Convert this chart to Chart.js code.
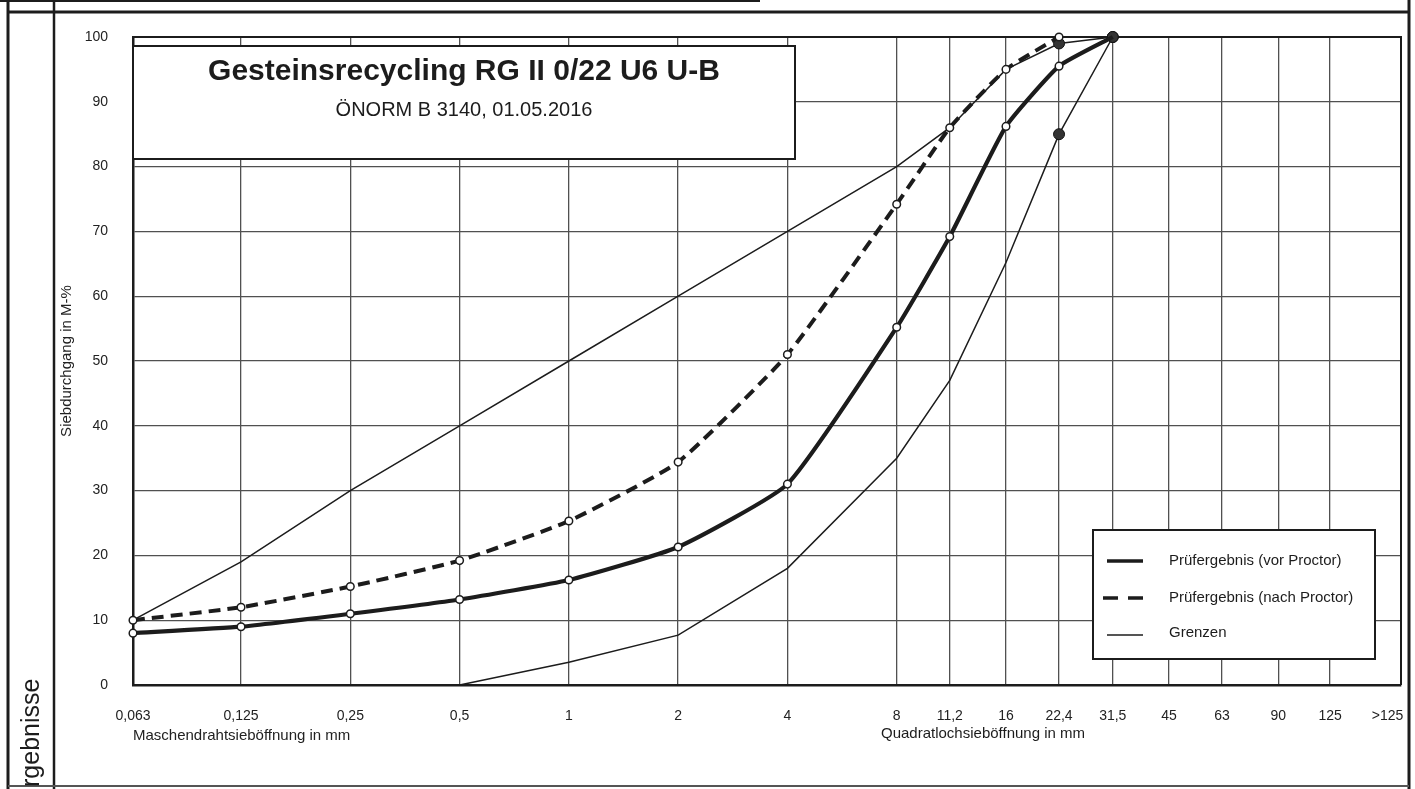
<!DOCTYPE html>
<html lang="de">
<head>
<meta charset="utf-8">
<title>Sieblinie RG II 0/22 U6 U-B</title>
<script src="https://cdn.jsdelivr.net/npm/chart.js@4.4.1/dist/chart.umd.min.js"></script>
<style>
  html, body { margin: 0; padding: 0; background: #fff; }
  #wrap { position: relative; width: 1415px; height: 789px; overflow: hidden; }
  canvas { display: block; }
</style>
</head>
<body>
<div id="wrap"><canvas id="siebChart" width="1415" height="789"></canvas></div>
<script>
// Sieböffnungen (mm) und Achsbeschriftung, ">125" sitzt im letzten Feld
const sieveSizes  = [0.063, 0.125, 0.25, 0.5, 1, 2, 4, 8, 11.2, 16, 22.4, 31.5, 45, 63, 90, 125, 180];
const sieveLabels = ["0,063", "0,125", "0,25", "0,5", "1", "2", "4", "8", "11,2", "16", "22,4", "31,5", "45", "63", "90", "125", ">125"];
const yTicks = [0, 10, 20, 30, 40, 50, 60, 70, 80, 90, 100];

// Siebdurchgang in M-%
const vorSieves  = [0.063, 0.125, 0.25, 0.5, 1, 2, 4, 8, 11.2, 16, 22.4, 31.5];
const vorProctor = [8, 9, 11, 13.2, 16.2, 21.3, 31, 55.2, 69.2, 86.2, 95.5, 100];

const nachSieves  = [0.063, 0.125, 0.25, 0.5, 1, 2, 4, 8, 11.2, 16, 22.4];
const nachProctor = [10, 12, 15.2, 19.2, 25.3, 34.4, 51, 74.2, 86, 95, 100];

const obenSieves = [0.063, 0.125, 0.25, 0.5, 1, 2, 4, 8, 11.2, 16, 22.4, 31.5];
const grenzeOben = [10, 19, 30, 40, 50, 60, 70, 80, 86, 95, 99, 100];

const untenSieves = [0.5, 1, 2, 4, 8, 11.2, 16, 22.4, 31.5];
const grenzeUnten = [0, 3.5, 7.7, 18, 35, 47, 65.2, 85, 100];

const chartTitle = "Gesteinsrecycling RG II 0/22 U6 U-B";
const chartSubtitle = "ÖNORM B 3140, 01.05.2016";
const legendLabels = ["Prüfergebnis (vor Proctor)", "Prüfergebnis (nach Proctor)", "Grenzen"];

const INK = "#1c1c1c";
const GRID = "#505050";
const FONT = '"Liberation Sans", Arial, sans-serif';

function toPoints(xs, ys) {
    return xs.map((x, i) => ({ x: x, y: ys[i] }));
}

function line(ctx, x1, y1, x2, y2, w) {
    ctx.lineWidth = w;
    ctx.beginPath();
    ctx.moveTo(x1, y1);
    ctx.lineTo(x2, y2);
    ctx.stroke();
}

/* Formularrahmen, Titelkasten, Legende */
const paperPlugin = {
    id: "paper",
    beforeDatasetsDraw(chart) {
        const ctx = chart.ctx;
        const a = chart.chartArea;
        ctx.save();
        ctx.strokeStyle = INK;
        ctx.fillStyle = INK;

        // Rahmen der Seite
        line(ctx, 0, 1, 760, 1, 2);
        line(ctx, 8, 0, 8, 789, 3);
        line(ctx, 54, 0, 54, 789, 2.5);
        line(ctx, 1409, 0, 1409, 789, 3);
        line(ctx, 7, 12, 1410, 12, 3);
        ctx.strokeStyle = "#555";
        line(ctx, 8, 786, 1409, 786, 2);

        // Diagrammrahmen oben und rechts
        ctx.strokeStyle = INK;
        ctx.lineWidth = 2;
        ctx.beginPath();
        ctx.moveTo(a.left, a.top);
        ctx.lineTo(a.right, a.top);
        ctx.lineTo(a.right, a.bottom);
        ctx.stroke();

        // Spaltentext links
        ctx.save();
        ctx.translate(32, 787);
        ctx.rotate(-Math.PI / 2);
        ctx.font = "25px " + FONT;
        ctx.textAlign = "left";
        ctx.textBaseline = "middle";
        ctx.fillText("rgebnisse", 0, 0);
        ctx.restore();

        // Titelkasten
        ctx.fillStyle = "#fff";
        ctx.fillRect(a.left, 46, 662, 113);
        ctx.lineWidth = 2;
        ctx.strokeRect(a.left, 46, 662, 113);
        ctx.fillStyle = INK;
        ctx.textAlign = "center";
        ctx.textBaseline = "alphabetic";
        ctx.font = "bold 30px " + FONT;
        ctx.fillText(chartTitle, a.left + 331, 80);
        ctx.font = "20px " + FONT;
        ctx.fillText(chartSubtitle, a.left + 331, 116);

        // zweite Achsbeschriftung
        ctx.textAlign = "left";
        ctx.textBaseline = "middle";
        ctx.font = "15px " + FONT;
        ctx.fillText("Quadratlochsieböffnung in mm", 881, 734);

        // Legende
        ctx.fillStyle = "#fff";
        ctx.fillRect(1093, 530, 282, 129);
        ctx.lineWidth = 2;
        ctx.strokeRect(1093, 530, 282, 129);
        ctx.strokeStyle = INK;
        line(ctx, 1107, 561, 1143, 561, 3.5);
        ctx.setLineDash([15, 10]);
        line(ctx, 1103, 598, 1143, 598, 3.5);
        ctx.setLineDash([]);
        line(ctx, 1107, 635, 1143, 635, 1.5);
        ctx.fillStyle = INK;
        ctx.font = "15px " + FONT;
        ctx.fillText(legendLabels[0], 1169, 561);
        ctx.fillText(legendLabels[1], 1169, 598);
        ctx.fillText(legendLabels[2], 1169, 633);

        ctx.restore();
    }
};

Chart.defaults.font.family = FONT;
Chart.defaults.color = "#222";

const openDot = {
    pointStyle: "circle",
    pointBackgroundColor: "#fff",
    pointBorderColor: INK,
    pointBorderWidth: 1.5,
    pointHoverRadius: 4
};

new Chart(document.getElementById("siebChart"), {
    type: "line",
    data: {
        datasets: [
            Object.assign({
                label: legendLabels[0],
                data: toPoints(vorSieves, vorProctor),
                borderColor: INK,
                borderWidth: 4.2,
                tension: 0.15,
                clip: false,
                pointRadius: ctx => ctx.dataIndex === vorProctor.length - 1 ? 0 : 3.8
            }, openDot),
            Object.assign({
                label: legendLabels[1],
                data: toPoints(nachSieves, nachProctor),
                borderColor: INK,
                borderWidth: 4,
                borderDash: [12, 7],
                tension: 0.15,
                clip: false,
                pointRadius: 3.8
            }, openDot),
            {
                label: "Grenze oben",
                data: toPoints(obenSieves, grenzeOben),
                borderColor: INK,
                borderWidth: 1.5,
                tension: 0,
                clip: false,
                pointRadius: ctx => ctx.raw && ctx.raw.x >= 22.4 ? 5.5 : 0,
                pointBackgroundColor: "#333",
                pointBorderColor: "#111",
                pointBorderWidth: 1
            },
            {
                label: "Grenze unten",
                data: toPoints(untenSieves, grenzeUnten),
                borderColor: INK,
                borderWidth: 1.5,
                tension: 0,
                clip: false,
                pointRadius: ctx => ctx.raw && ctx.raw.x >= 22.4 ? 5.5 : 0,
                pointBackgroundColor: "#333",
                pointBorderColor: "#111",
                pointBorderWidth: 1
            }
        ]
    },
    options: {
        responsive: false,
        animation: false,
        layout: { padding: { left: 55, top: 37, right: 14, bottom: 44 } },
        plugins: {
            legend: { display: false },
            tooltip: { enabled: false },
            title: { display: false }
        },
        scales: {
            x: {
                type: "logarithmic",
                min: 0.063,
                max: 196,
                afterBuildTicks: scale => { scale.ticks = sieveSizes.map(v => ({ value: v })); },
                afterFit: scale => {
                    scale.height = 60;
                    scale.paddingLeft = 0;
                    scale.paddingRight = 0;
                },
                ticks: {
                    autoSkip: false,
                    maxRotation: 0,
                    minRotation: 0,
                    padding: 23,
                    font: { size: 14 },
                    callback: (value, index) => sieveLabels[index]
                },
                grid: {
                    drawTicks: false,
                    color: ctx => ctx.tick && ctx.tick.value === 180 ? "rgba(0,0,0,0)" : GRID,
                    lineWidth: 1.3
                },
                border: { color: INK, width: 2.5 },
                title: {
                    display: true,
                    text: "Maschendrahtsieböffnung in mm",
                    align: "start",
                    font: { size: 15 },
                    padding: 0
                }
            },
            y: {
                min: 0,
                max: 100,
                afterBuildTicks: scale => { scale.ticks = yTicks.map(v => ({ value: v })); },
                afterFit: scale => {
                    scale.width = 78;
                    scale.paddingTop = 0;
                    scale.paddingBottom = 0;
                },
                ticks: {
                    padding: 25,
                    font: { size: 14 }
                },
                grid: {
                    drawTicks: false,
                    color: GRID,
                    lineWidth: 1.3
                },
                border: { color: INK, width: 2.5 },
                title: {
                    display: true,
                    text: "Siebdurchgang in M-%",
                    font: { size: 15 },
                    padding: { top: 3, bottom: 0 }
                }
            }
        }
    },
    plugins: [paperPlugin]
});
</script>
</body>
</html>
